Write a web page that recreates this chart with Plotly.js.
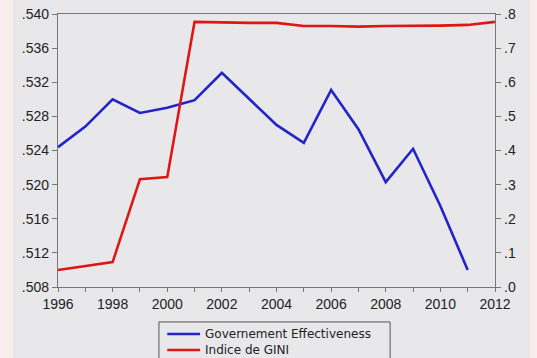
<!DOCTYPE html>
<html><head><meta charset="utf-8">
<script src="https://cdn.plot.ly/plotly-3.0.1.min.js"></script>
<style>html,body{margin:0;padding:0;background:#f9eced;}#c{width:537px;height:358px;}</style>
</head><body><div id="c"></div>
<script>
var years = [1996,1997,1998,1999,2000,2001,2002,2003,2004,2005,2006,2007,2008,2009,2010,2011,2012];
var govEff = [0.5244,0.5268,0.5300,0.5284,0.5290,0.5299,0.5331,0.5300,0.5270,0.5249,0.5311,0.5265,0.5203,0.5242,0.5175,0.5100,null];
var gini = [0.050,0.062,0.073,0.316,0.322,0.777,0.775,0.774,0.774,0.765,0.765,0.763,0.765,0.765,0.766,0.768,0.777];
var seriesNames = ['Governement Effectiveness','Indice de GINI'];
var seriesColors = ['#2323c8','#e01515'];
var leftTicks = [0.508,0.512,0.516,0.520,0.524,0.528,0.532,0.536,0.540];
var leftLabels = ['.508','.512','.516','.520','.524','.528','.532','.536','.540'];
var rightTicks = [0,0.1,0.2,0.3,0.4,0.5,0.6,0.7,0.8];
var rightLabels = ['.0','.1','.2','.3','.4','.5','.6','.7','.8'];
var xTicks = [1996,1998,2000,2002,2004,2006,2008,2010,2012];
var xLabels = ['1996','1998','2000','2002','2004','2006','2008','2010','2012'];

var fam = 'Liberation Sans, Arial, sans-serif';
var tf = {family:fam, size:14, color:'#222'};
var traces = [
  {x:years, y:govEff, name:seriesNames[0], type:'scatter', mode:'lines',
   line:{color:seriesColors[0], width:2.6}, yaxis:'y'},
  {x:years, y:gini, name:seriesNames[1], type:'scatter', mode:'lines',
   line:{color:seriesColors[1], width:2.6}, yaxis:'y2'}
];
// manual legend (paper coords relative to plot area 58..495 x 14..287)
var legX0 = 0.231, legX1 = 0.760, legTop = -0.128, legBot = -0.32;
var rowY = [-0.172, -0.231];
var shapes = [
  {type:'rect', xref:'paper', yref:'paper', x0:-0.103, x1:1.080, y0:-0.32, y1:1.06,
   fillcolor:'#e8e8ea', line:{width:0}, layer:'below'},
  {type:'rect', xref:'paper', yref:'paper', x0:legX0, x1:legX1, y0:legBot, y1:legTop,
   fillcolor:'rgba(0,0,0,0)', line:{color:'#555', width:1}}
];
var annotations = [];
for (var i = 0; i < seriesNames.length; i++) {
  shapes.push({type:'line', xref:'paper', yref:'paper', x0:0.250, x1:0.325, y0:rowY[i], y1:rowY[i],
               line:{color:seriesColors[i], width:2.6}});
  annotations.push({xref:'paper', yref:'paper', x:0.331, y:rowY[i], xanchor:'left', yanchor:'middle',
                    text:seriesNames[i], showarrow:false,
                    font:{family:'DejaVu Sans, sans-serif', size:12, color:'#222'}});
}
var layout = {
  width:537, height:358,
  margin:{l:58, r:42, t:14, b:71, autoexpand:false},
  paper_bgcolor:'#f9eced', plot_bgcolor:'#fcf2c6',
  font:tf, showlegend:false,
  xaxis:{range:[1996,2012], tickvals:xTicks, ticktext:xLabels, ticks:'outside', ticklen:4,
         tickcolor:'#777', showgrid:false, zeroline:false, showline:true, linecolor:'#777',
         linewidth:1.2, mirror:true, tickfont:tf,
         minor:{dtick:1, ticks:'outside', ticklen:4, tickcolor:'#777'}},
  yaxis:{range:[0.508,0.540], tickvals:leftTicks, ticktext:leftLabels, ticks:'outside', ticklen:5,
         tickcolor:'#777', showgrid:false, zeroline:false, showline:true, linecolor:'#777',
         linewidth:1.2, mirror:true, tickfont:tf},
  yaxis2:{range:[0,0.8], overlaying:'y', side:'right', tickvals:rightTicks, ticktext:rightLabels,
          ticks:'outside', ticklen:5, tickcolor:'#777', showgrid:false, zeroline:false,
          showline:true, linecolor:'#777', linewidth:1.2, tickfont:tf},
  shapes:shapes, annotations:annotations
};
Plotly.newPlot('c', traces, layout, {displayModeBar:false, staticPlot:true});
</script></body></html>
